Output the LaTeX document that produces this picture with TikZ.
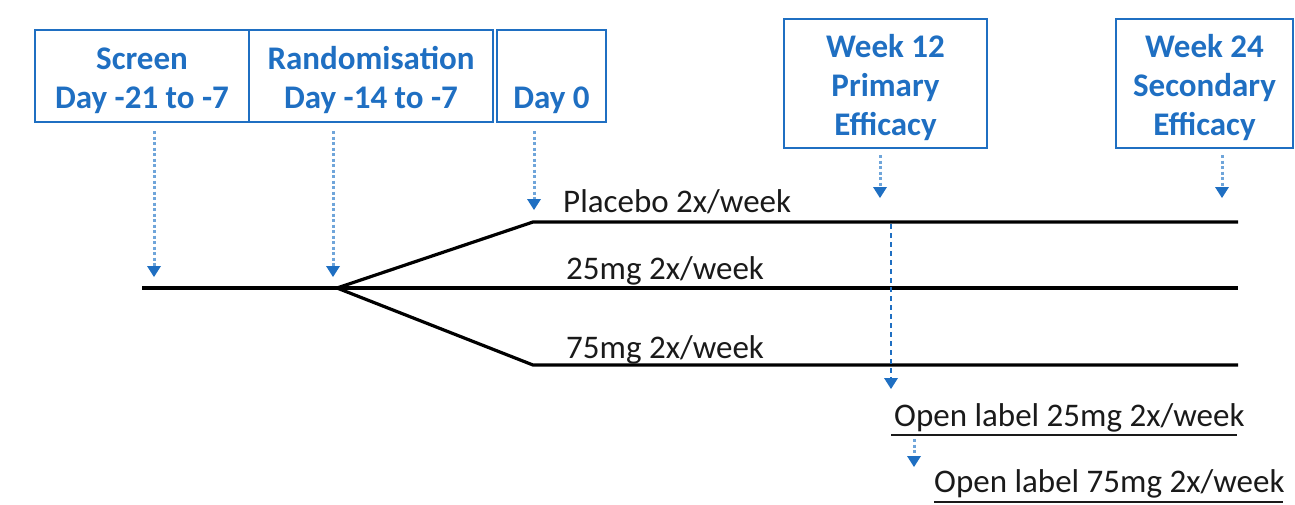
\documentclass[tikz,border=0pt]{standalone}
\usepackage{fontspec}
\setmainfont{Carlito}
\usetikzlibrary{arrows.meta}
\definecolor{mblue}{HTML}{1F6FC2}
\definecolor{lblue}{HTML}{6FA5DA}
\definecolor{ink}{HTML}{1A1A1A}
\newcommand\phtop{\rule{0pt}{31pt}}
\begin{document}
\begin{tikzpicture}[x=1pt,y=-1pt,
  phase/.style={draw=mblue, line width=2.8pt, text=mblue,
    font=\fontsize{33}{39}\selectfont\bfseries, align=center, inner sep=0pt},
  lbl/.style={text=ink, font=\fontsize{33}{39}\selectfont, inner sep=0pt, anchor=base west},
  dotarrow/.style={draw=lblue, line width=3pt, dash pattern=on 3pt off 2.5pt,
    -{Triangle[width=14pt,length=11pt,fill=mblue,color=mblue,line width=0pt]}},
  dasharrow/.style={draw=mblue, line width=1.6pt, dash pattern=on 5pt off 4pt,
    -{Triangle[width=14pt,length=11pt,fill=mblue,line width=0pt]}},
  arm/.style={draw=black, line width=3.2pt},
  uline/.style={draw=ink, line width=2.2pt}]
\useasboundingbox (0,0) rectangle (1295,504);

% phase boxes
\node[phase, minimum width=214pt, minimum height=92pt] (screen) at (142,76) {\phtop Screen\\Day -21 to -7};
\node[phase, minimum width=244pt, minimum height=92pt] (rand) at (371,76) {\phtop Randomisation\\Day -14 to -7};
\node[phase, minimum width=109pt, minimum height=92pt] (day0) at (551.5,76) {\phtop\\Day 0};
\node[phase, minimum width=203pt, minimum height=129pt] (wk12) at (885.5,83.5) {\phtop Week 12\\Primary\\Efficacy};
\node[phase, minimum width=177pt, minimum height=129pt] (wk24) at (1204.5,83.5) {\phtop Week 24\\Secondary\\Efficacy};

% arrow coordinates
\coordinate (a1s) at (154,131);  \coordinate (a1e) at (154,277);
\coordinate (a2s) at (333,131);  \coordinate (a2e) at (333,277);
\coordinate (a3s) at (534,131);  \coordinate (a3e) at (534,210);
\coordinate (a4s) at (880,155);  \coordinate (a4e) at (880,198);
\coordinate (a5s) at (1222,155); \coordinate (a5e) at (1222,198);

\draw[dotarrow] (a1s) -- (a1e);
\draw[dotarrow] (a2s) -- (a2e);
\draw[dotarrow] (a3s) -- (a3e);
\draw[dotarrow] (a4s) -- (a4e);
\draw[dotarrow] (a5s) -- (a5e);

% timeline
\coordinate (start) at (142,288);
\coordinate (branch) at (337,288);
\coordinate (pl) at (533,222);
\coordinate (pr) at (1238,222);
\coordinate (mr) at (1238,288);
\coordinate (bl) at (533,365);
\coordinate (br) at (1238,365);

\draw[arm] (start) -- (mr);
\draw[arm, line join=round] (branch) -- (pl) -- (pr);
\draw[arm, line join=round] (branch) -- (bl) -- (br);

% arm labels
\node[lbl] (plac) at (563,212) {Placebo 2x/week};
\node[lbl] (m25) at (566,279) {25mg 2x/week};
\node[lbl] (m75) at (566,358) {75mg 2x/week};

% open label switch
\coordinate (ds) at (891,224);
\coordinate (de) at (891,389);
\draw[dasharrow] (ds) -- (de);

\node[lbl] (ol25) at (894,426) {Open label 25mg 2x/week};
\coordinate (u1l) at (891,435); \coordinate (u1r) at (1237,435);
\draw[uline] (u1l) -- (u1r);

\coordinate (a6s) at (914,439); \coordinate (a6e) at (914,467);
\draw[dotarrow] (a6s) -- (a6e);

\node[lbl] (ol75) at (934,492) {Open label 75mg 2x/week};
\coordinate (u2l) at (934,502); \coordinate (u2r) at (1283,502);
\draw[uline] (u2l) -- (u2r);
\end{tikzpicture}
\end{document}
